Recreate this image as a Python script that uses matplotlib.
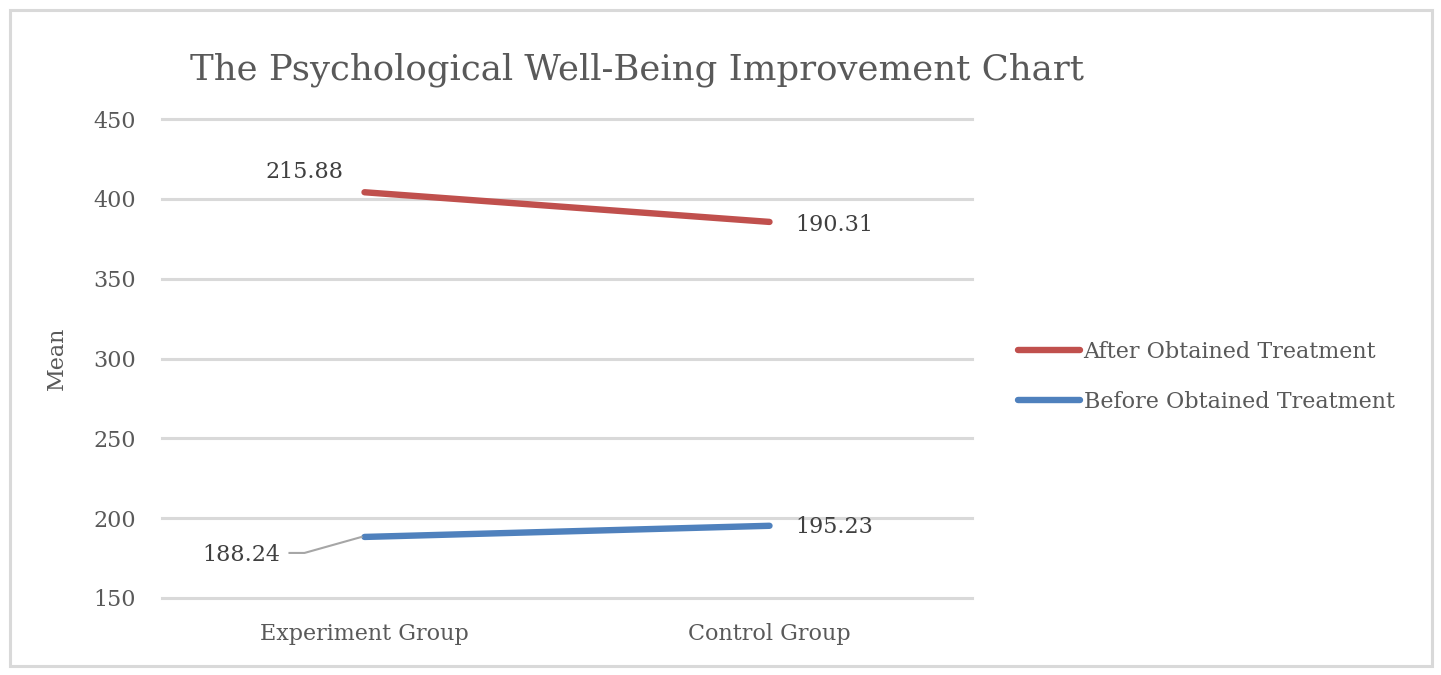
import matplotlib
matplotlib.use("Agg")
import matplotlib.pyplot as plt
from matplotlib.patches import Rectangle
from matplotlib.lines import Line2D

categories = ["Experiment Group", "Control Group"]
before = [188.24, 195.23]
after = [215.88, 190.31]
yticks = [150, 200, 250, 300, 350, 400, 450]

RED = "#C0504D"
BLUE = "#4F81BD"
TXT = "#595959"
GRID = "#D9D9D9"
FONT = "DejaVu Serif"

plt.rcParams['font.family'] = [FONT]

W, H = 1441, 675
fig = plt.figure(figsize=(W / 100, H / 100), dpi=100)
fig.patches.append(Rectangle((9.5 / W, 9.5 / H), (W - 19) / W, (H - 19) / H,
                             transform=fig.transFigure, fill=False,
                             edgecolor=GRID, linewidth=2.2))

ax = fig.add_axes([162 / W, 1 - 598 / H, (972 - 162) / W, (598 - 119) / H])
x = list(range(len(categories)))
stacked_after = [b + a for b, a in zip(before, after)]

lb, = ax.plot(x, before, color=BLUE, lw=4.6, solid_capstyle='round', zorder=3,
              label="Before Obtained Treatment")
la, = ax.plot(x, stacked_after, color=RED, lw=4.6, solid_capstyle='round', zorder=3,
              label="After Obtained Treatment")

ax.set_xlim(-0.5, len(categories) - 0.5)
ax.set_ylim(yticks[0], yticks[-1])
ax.set_yticks(yticks)
ax.set_xticks(x)
ax.set_xticklabels(categories)
ax.yaxis.grid(True, color=GRID, lw=2.2)
for gl in ax.get_ygridlines():
    gl.set_clip_on(False)
ax.set_axisbelow(True)
for s in ax.spines.values():
    s.set_visible(False)
ax.tick_params(axis='both', length=0, labelsize=16, labelcolor=TXT)
ax.tick_params(axis='y', pad=19)
ax.tick_params(axis='x', pad=18)
ax.set_ylabel("Mean", fontsize=16, color=TXT, labelpad=18)

# data labels (offsets in pixels)
lab_kw = dict(textcoords='offset pixels', ha='center', va='center',
              fontsize=16, color="#404040")
ax.annotate(f"{after[0]:.2f}", (x[0], stacked_after[0]), xytext=(-60, 20), **lab_kw)
ax.annotate(f"{after[1]:.2f}", (x[1], stacked_after[1]), xytext=(65, -3), **lab_kw)
ax.annotate(f"{before[1]:.2f}", (x[1], before[1]), xytext=(65, -1), **lab_kw)
ax.annotate(f"{before[0]:.2f}", (x[0], before[0]), xytext=(-123, -18), **lab_kw)

# leader line for the 188.24 label (pixel offsets from the data point)
fig.canvas.draw()
pts_off = [(-75, -16), (-60, -16), (-3, 0)]
disp = ax.transData.transform((x[0], before[0]))
leader = Line2D([disp[0] + dx for dx, dy in pts_off],
                [disp[1] + dy for dx, dy in pts_off],
                transform=None, color="#A6A6A6", lw=1.5)
fig.add_artist(leader)

fig.text(190 / W, 1 - 70 / H, "The Psychological Well-Being Improvement Chart",
         fontsize=25.6, color=TXT, ha='left', va='center')

leg = fig.legend([la, lb], [la.get_label(), lb.get_label()],
                 loc='center left', bbox_to_anchor=(998 / W, 1 - 377 / H),
                 frameon=False, fontsize=16, handlelength=2.8, handletextpad=0.15,
                 labelspacing=1.25, labelcolor=TXT)

fig.savefig("out.png", dpi=100)
